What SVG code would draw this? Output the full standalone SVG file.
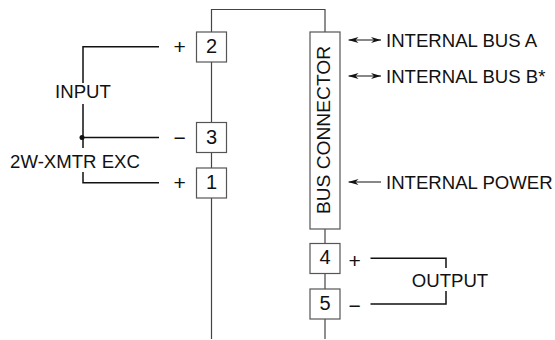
<svg xmlns="http://www.w3.org/2000/svg" width="555" height="340" viewBox="0 0 555 340">
<style>
text{font-family:"Liberation Sans",Arial,sans-serif;font-size:18.600px;fill:#111}
.box{fill:#fff;stroke:#555;stroke-width:1.200}
.thin{fill:none;stroke:#444;stroke-width:1.200}
.wire{fill:none;stroke:#111;stroke-width:1.500}
.ar{fill:none;stroke:#111;stroke-width:1}
.num{font-size:20px;text-anchor:middle}
.sign{font-size:21px}
</style>
<defs>
<marker id="ah" viewBox="0 0 10 6" refX="10" refY="3" markerWidth="10" markerHeight="6" orient="auto-start-reverse" markerUnits="userSpaceOnUse"><path d="M0 0L10 3L0 6L3 3Z" fill="#111"/></marker>
</defs>
<g id="connectors">
<path class="thin" d="M211.500 339V9.500H325V32"/>
<path class="thin" d="M325 229V339"/>
<path class="wire" d="M159 46.700H83V83M83 104V148M83 137.500H159M83 172V182.700H159"/>
<circle cx="82" cy="137.500" r="2.500" fill="#111"/>
<path class="wire" d="M370.500 258.300H446V268M446 291V304H370.500"/>
<path class="ar" marker-start="url(#ah)" marker-end="url(#ah)" d="M348.500 40H381"/>
<path class="ar" marker-start="url(#ah)" marker-end="url(#ah)" d="M348.500 76H381"/>
<path class="ar" marker-start="url(#ah)" d="M348.500 182H381"/>
</g>
<g id="node-2"><rect class="box" x="196.500" y="32" width="30" height="30"/><text class="num" x="211.500" y="53">2</text></g>
<g id="node-3"><rect class="box" x="196.500" y="122.500" width="30" height="30"/><text class="num" x="211.500" y="144">3</text></g>
<g id="node-1"><rect class="box" x="196.500" y="168" width="30" height="30"/><text class="num" x="211.500" y="189">1</text></g>
<g id="bus-connector"><rect class="box" x="310" y="32" width="30" height="197"/><text transform="translate(330 130) rotate(-90)" text-anchor="middle" style="font-size:19.200px">BUS CONNECTOR</text></g>
<g id="node-4"><rect class="box" x="310" y="243.500" width="30" height="30"/><text class="num" x="325" y="264">4</text></g>
<g id="node-5"><rect class="box" x="310" y="289" width="30" height="30"/><text class="num" x="325" y="310">5</text></g>
<g id="labels">
<text class="sign" x="173.500" y="54">+</text><text class="sign" x="173.500" y="144.500">−</text><text class="sign" x="173.500" y="190">+</text>
<text class="sign" x="348.500" y="268">+</text><text class="sign" x="348.500" y="313">−</text>
<text x="83" y="98" text-anchor="middle">INPUT</text>
<text x="75" y="168" text-anchor="middle">2W-XMTR EXC</text>
<text x="450" y="287" text-anchor="middle">OUTPUT</text>
<text x="386" y="47">INTERNAL BUS A</text>
<text x="386" y="83">INTERNAL BUS B*</text>
<text x="386" y="188.500">INTERNAL POWER</text>
</g>
</svg>
